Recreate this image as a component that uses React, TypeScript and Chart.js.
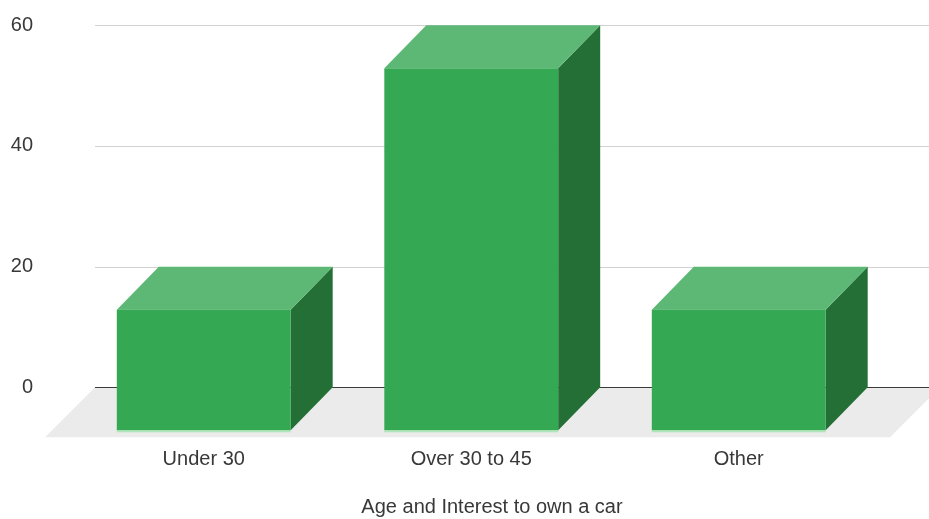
import React, { useEffect, useRef } from "react";
import { Chart, registerables } from "chart.js";

Chart.register(...registerables);

// Chart data
const categories: string[] = ["Under 30", "Over 30 to 45", "Other"];
const values: number[] = [20, 60, 20];
const yTicks: number[] = [0, 20, 40, 60];
const axisTitle = "Age and Interest to own a car";

// 3D look
const DEPTH_X = -42; // front face offset from back plane
const DEPTH_Y = 43;
const FLOOR_DEPTH = 50;
const FLOOR_LEFT = 95;
const FLOOR_RIGHT = 940;
const TITLE_X = 492;
const TITLE_Y = 507;
const FRONT_COLOR = "#35a853";
const TOP_COLOR = "#5cb874";
const SIDE_COLOR = "#236f36";
const FLOOR_COLOR = "#ebebeb";
const GRID_COLOR = "#d2d2d2";
const ZERO_COLOR = "#3a3a3a";
const TEXT_COLOR = "#383838";
const FONT_FAMILY = "'Liberation Sans', Arial, sans-serif";

const columns3d = {
  id: "columns3d",
  beforeDatasetsDraw(chart: any) {
    const { ctx } = chart;
    const y = chart.scales.y;
    const zeroY = y.getPixelForValue(0);
    ctx.save();
    // floor
    ctx.fillStyle = FLOOR_COLOR;
    ctx.beginPath();
    ctx.moveTo(FLOOR_LEFT, zeroY);
    ctx.lineTo(FLOOR_RIGHT, zeroY);
    ctx.lineTo(FLOOR_RIGHT - FLOOR_DEPTH, zeroY + FLOOR_DEPTH);
    ctx.lineTo(FLOOR_LEFT - FLOOR_DEPTH, zeroY + FLOOR_DEPTH);
    ctx.closePath();
    ctx.fill();
    // gridlines on the back wall
    ctx.lineWidth = 1;
    for (const v of yTicks) {
      const py = Math.round(y.getPixelForValue(v)) + 0.5;
      ctx.strokeStyle = v === 0 ? ZERO_COLOR : GRID_COLOR;
      ctx.beginPath();
      ctx.moveTo(FLOOR_LEFT, py);
      ctx.lineTo(chart.width, py);
      ctx.stroke();
    }
    ctx.restore();
  },
  afterDatasetsDraw(chart: any) {
    const { ctx } = chart;
    const meta = chart.getDatasetMeta(0);
    ctx.save();
    meta.data.forEach((bar: any) => {
      const { x, y, base, width } = bar.getProps(["x", "y", "base", "width"], true);
      const x0 = x - width / 2;
      const x1 = x + width / 2;
      // side face
      ctx.fillStyle = SIDE_COLOR;
      ctx.beginPath();
      ctx.moveTo(x1, y);
      ctx.lineTo(x1, base);
      ctx.lineTo(x1 + DEPTH_X, base + DEPTH_Y);
      ctx.lineTo(x1 + DEPTH_X, y + DEPTH_Y);
      ctx.closePath();
      ctx.fill();
      // top face
      ctx.fillStyle = TOP_COLOR;
      ctx.beginPath();
      ctx.moveTo(x0, y);
      ctx.lineTo(x1, y);
      ctx.lineTo(x1 + DEPTH_X, y + DEPTH_Y);
      ctx.lineTo(x0 + DEPTH_X, y + DEPTH_Y);
      ctx.closePath();
      ctx.fill();
      // front face
      ctx.fillStyle = FRONT_COLOR;
      ctx.fillRect(x0 + DEPTH_X, y + DEPTH_Y, width, base - y);
      // soft highlight under the front face
      ctx.fillStyle = "rgba(160, 230, 175, 0.8)";
      ctx.fillRect(x0 + DEPTH_X, base + DEPTH_Y, width, 2);
    });
    ctx.restore();
  },
  afterDraw(chart: any) {
    const { ctx } = chart;
    ctx.save();
    ctx.fillStyle = TEXT_COLOR;
    ctx.font = `20px ${FONT_FAMILY}`;
    ctx.textAlign = "center";
    ctx.textBaseline = "middle";
    ctx.fillText(axisTitle, TITLE_X, TITLE_Y);
    ctx.restore();
  },
};

export default function App() {
  const canvasRef = useRef<HTMLCanvasElement | null>(null);

  useEffect(() => {
    document.body.style.margin = "0";
    const canvas = canvasRef.current;
    if (!canvas) return;
    const chart = new Chart(canvas, {
      type: "bar",
      data: {
        labels: categories,
        datasets: [
          {
            data: values,
            backgroundColor: "rgba(0,0,0,0)",
            borderWidth: 0,
            barPercentage: 0.65,
            categoryPercentage: 1,
          },
        ],
      },
      plugins: [columns3d],
      options: {
        responsive: false,
        animation: false,
        devicePixelRatio: 1,
        layout: { padding: { left: 0, right: 14.5, top: 25.3, bottom: 0 } },
        plugins: {
          legend: { display: false },
          tooltip: { enabled: false },
          title: { display: false },
        },
        scales: {
          x: {
            grid: { display: false, drawTicks: false },
            border: { display: false },
            ticks: {
              color: TEXT_COLOR,
              font: { family: FONT_FAMILY, size: 20 },
              padding: 60,
              labelOffset: DEPTH_X,
              maxRotation: 0,
            },
            afterFit: (scale: any) => {
              scale.height = 131.7;
            },
          },
          y: {
            min: 0,
            max: 60,
            grid: { display: false, drawTicks: true, tickLength: 76 },
            border: { display: false },
            ticks: {
              stepSize: 20,
              color: TEXT_COLOR,
              font: { family: FONT_FAMILY, size: 20 },
              padding: 3,
            },
            afterFit: (scale: any) => {
              scale.width = 112;
            },
          },
        },
      },
    });
    return () => chart.destroy();
  }, []);

  return <canvas ref={canvasRef} width={929} height={519} style={{ display: "block" }} />;
}
